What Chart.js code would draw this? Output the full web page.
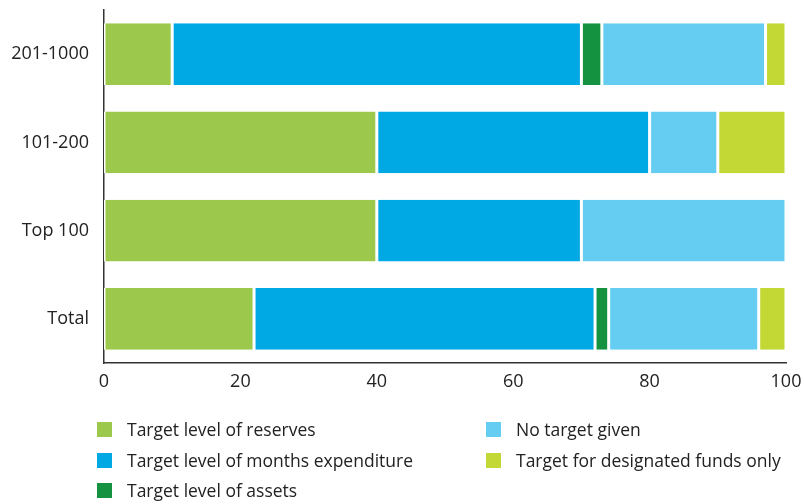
<!DOCTYPE html>
<html>
<head>
<meta charset="utf-8">
<script src="https://cdn.jsdelivr.net/npm/chart.js@4"></script>
<style>
  body { margin: 0; background: #fff; font-family: "Open Sans", sans-serif; }
  #wrap { position: relative; width: 804px; height: 504px; }
  #chartBox { position: absolute; left: 0; top: 0; width: 804px; height: 400px; }
  #legend { position: absolute; left: 0; top: 0; width: 804px; height: 504px; pointer-events: none; }
  .item { position: absolute; display: flex; align-items: center; font-size: 17.5px; color: #222; white-space: nowrap; }
  .box { width: 15px; height: 15px; margin-right: 15px; }
</style>
</head>
<body>
<div id="wrap">
  <div id="chartBox"><canvas id="canvas"></canvas></div>
  <div id="legend"></div>
</div>
<script>
const groups = ["201-1000", "101-200", "Top 100", "Total"];

const reserves = [10, 40, 40, 22];
const months = [60, 40, 30, 50];
const assets = [3, 0, 0, 2];
const noTarget = [24, 10, 30, 22];
const designated = [3, 10, 0, 4];

const seriesNames = [
  "Target level of reserves",
  "Target level of months expenditure",
  "Target level of assets",
  "No target given",
  "Target for designated funds only",
];
const seriesColors = ["#9cc94c", "#00a9e4", "#149240", "#66cdf2", "#c3d735"];
const seriesValues = [reserves, months, assets, noTarget, designated];

const xTicks = [0, 20, 40, 60, 80, 100];

const ctx = document.getElementById("canvas").getContext("2d");

const datasets = seriesNames.map((name, i) => ({
  label: name,
  data: seriesValues[i],
  backgroundColor: seriesColors[i],
  borderColor: "#ffffff",
  borderWidth: { left: 1.5, right: 1.5, top: 0, bottom: 0 },
  borderSkipped: false,
  categoryPercentage: 0.7,
  barPercentage: 1,
}));

const chart = new Chart(ctx, {
  type: "bar",
  data: { labels: groups, datasets: datasets },
  options: {
    indexAxis: "y",
    responsive: true,
    maintainAspectRatio: false,
    animation: false,
    layout: { padding: { left: 0, right: 18, top: 10, bottom: 0 } },
    plugins: { legend: { display: false }, tooltip: { enabled: false } },
    scales: {
      x: {
        stacked: true,
        min: 0,
        max: 100,
        afterBuildTicks: (scale) => {
          scale.ticks = xTicks.map((v) => ({ value: v }));
        },
        afterFit: (scale) => {
          scale.height = 37;
          scale.paddingLeft = 0;
          scale.paddingRight = 0;
        },
        grid: { display: false, drawTicks: false },
        border: { display: true, color: "#333", width: 1.5 },
        ticks: { padding: 8, color: "#222", font: { family: "Open Sans", size: 18 } },
      },
      y: {
        stacked: true,
        afterFit: (scale) => {
          scale.width = 104;
          scale.paddingTop = 0;
          scale.paddingBottom = 0;
        },
        grid: { display: false, drawTicks: false },
        border: { display: true, color: "#333", width: 1.5 },
        ticks: { padding: 15, color: "#222", font: { family: "Open Sans", size: 18 } },
      },
    },
  },
});

// two-column legend below the plot
const legendPos = [
  [97, 430], [97, 461], [97, 491],
  [486, 430], [486, 461],
];
const legend = document.getElementById("legend");
chart.data.datasets.forEach((ds, i) => {
  const el = document.createElement("div");
  el.className = "item";
  el.style.left = legendPos[i][0] + "px";
  el.style.top = (legendPos[i][1] - 13) + "px";
  el.style.height = "24px";
  el.innerHTML = '<span class="box" style="background:' + ds.backgroundColor + '"></span>' + ds.label;
  legend.appendChild(el);
});
</script>
</body>
</html>
